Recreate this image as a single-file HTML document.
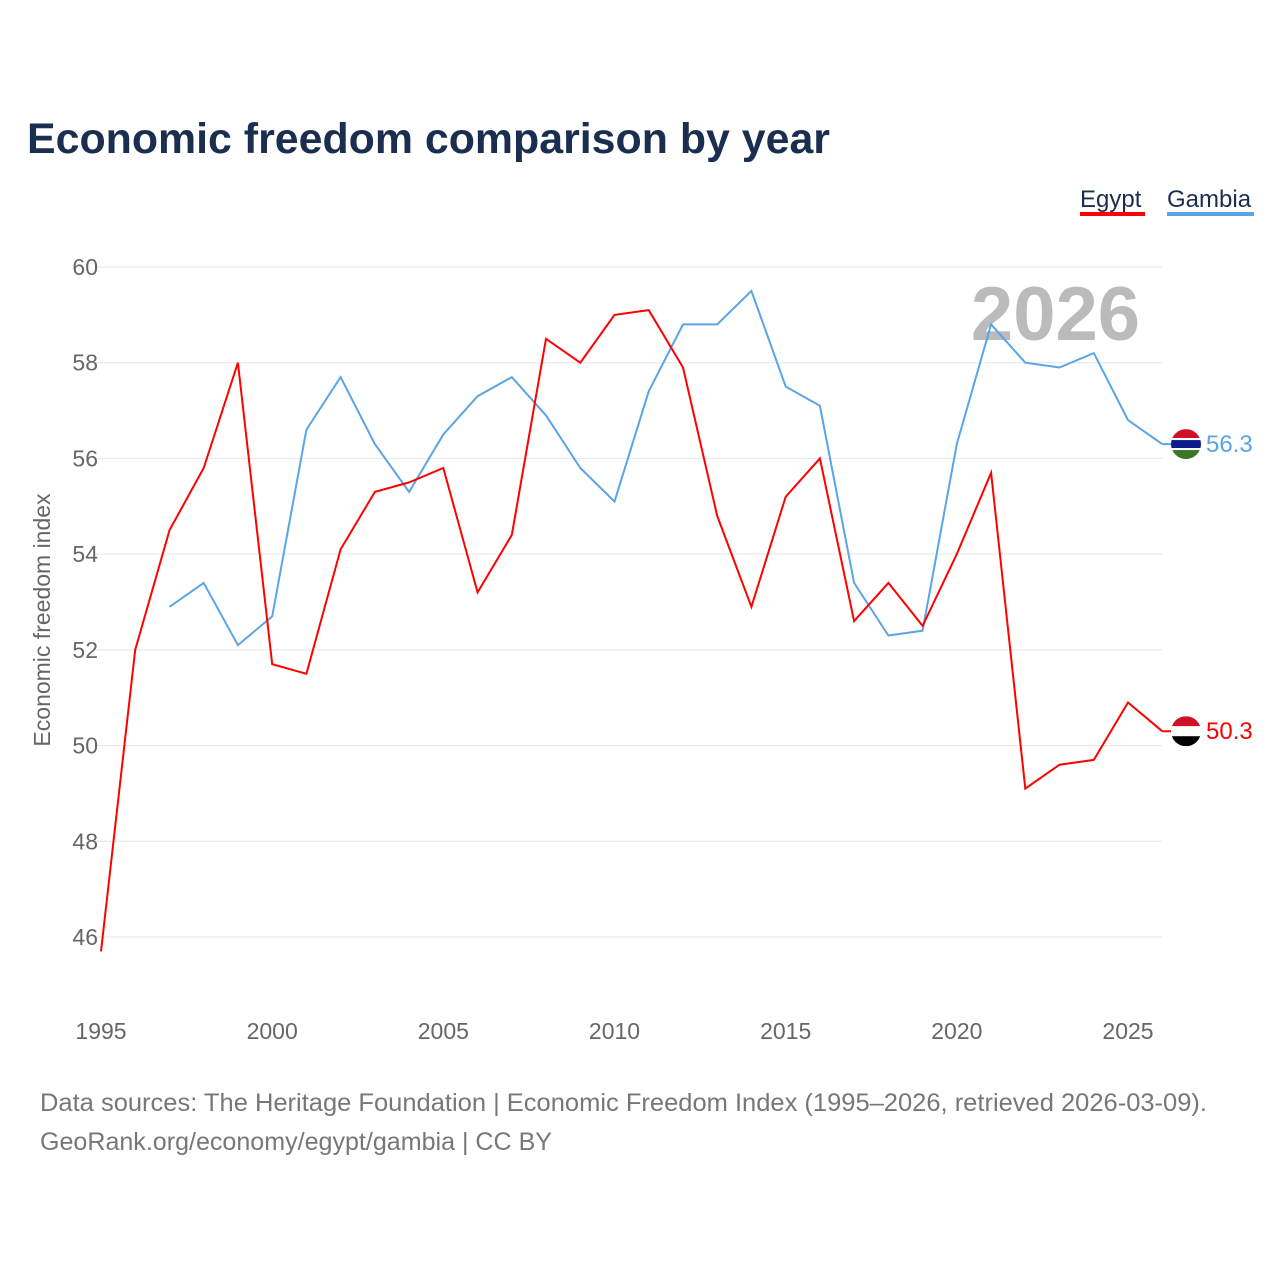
<!DOCTYPE html>
<html><head><meta charset="utf-8">
<style>
body{margin:0;background:#fff;width:1280px;height:1280px;overflow:hidden;font-family:"Liberation Sans",sans-serif}
svg text{font-family:"Liberation Sans",sans-serif}
</style></head>
<body>
<svg id="chart" width="1280" height="1280">
<text x="27" y="153" font-size="43" font-weight="bold" fill="#1a2e4f" textLength="803" lengthAdjust="spacingAndGlyphs">Economic freedom comparison by year</text>
<g>
<text x="1080" y="207" font-size="24" fill="#1a2e4f">Egypt</text>
<rect x="1080" y="212" width="65" height="4" fill="#ff0000"/>
<text x="1167" y="207" font-size="24" fill="#1a2e4f">Gambia</text>
<rect x="1167" y="212" width="87" height="4" fill="#5ba4e6"/>
</g>
<text x="1140" y="340" font-size="76" font-weight="bold" fill="#bbbbbb" text-anchor="end">2026</text>
<g id="grid"></g>
<g id="axes"></g>
<text transform="translate(50,620) rotate(-90)" font-size="23" fill="#666" text-anchor="middle">Economic freedom index</text>
<g id="series"></g>
<g id="ends"></g>
<text x="40" y="1111" font-size="25" fill="#777" textLength="1167" lengthAdjust="spacingAndGlyphs">Data sources: The Heritage Foundation | Economic Freedom Index (1995–2026, retrieved 2026-03-09).</text>
<text x="40" y="1150" font-size="25" fill="#777" textLength="512" lengthAdjust="spacingAndGlyphs">GeoRank.org/economy/egypt/gambia | CC BY</text>
</svg>
<script>
const years=[1995,1996,1997,1998,1999,2000,2001,2002,2003,2004,2005,2006,2007,2008,2009,2010,2011,2012,2013,2014,2015,2016,2017,2018,2019,2020,2021,2022,2023,2024,2025,2026];
const egypt=[45.7,52.0,54.5,55.8,58.0,51.7,51.5,54.1,55.3,55.5,55.8,53.2,54.4,58.5,58.0,59.0,59.1,57.9,54.8,52.9,55.2,56.0,52.6,53.4,52.5,54.0,55.7,49.1,49.6,49.7,50.9,50.3];
const gambia=[null,null,52.9,53.4,52.1,52.7,56.6,57.7,56.3,55.3,56.5,57.3,57.7,56.9,55.8,55.1,57.4,58.8,58.8,59.5,57.5,57.1,53.4,52.3,52.4,56.3,58.8,58.0,57.9,58.2,56.8,56.3];
const yTicks=[46,48,50,52,54,56,58,60];
const xTicks=[1995,2000,2005,2010,2015,2020,2025];
const NS="http://www.w3.org/2000/svg";
const X=y=>101+(y-1995)*(1027/30);
const Y=v=>267+(60-v)*(670/14);
function mk(tag,attrs,parent){const e=document.createElementNS(NS,tag);for(const k in attrs)e.setAttribute(k,attrs[k]);parent.appendChild(e);return e;}
const grid=document.getElementById('grid'),axes=document.getElementById('axes');
yTicks.forEach(v=>{
 const l=mk('line',{x1:95,x2:1162,y1:Y(v),y2:Y(v),stroke:'#e6e6e6','stroke-width':1},grid);
 
 
 const t=mk('text',{x:98,y:Y(v)+8,'font-size':23,fill:'#666','text-anchor':'end'},axes);
 t.textContent=v;
 
 
});
xTicks.forEach(v=>{
 const t=mk('text',{x:X(v),y:1039,'font-size':23,fill:'#666','text-anchor':'middle'},axes);
 t.textContent=v;
 
 
});
const ser=document.getElementById('series');
function line(vals,color,name){
 let d='';vals.forEach((v,i)=>{if(v==null)return;d+=(d?'L':'M')+X(years[i]).toFixed(1)+','+Y(v).toFixed(1);});
 const p=mk('path',{d:d,fill:'none',stroke:color,'stroke-width':2},ser);
 
 
}
line(gambia,'#5ba4e6','line-gambia');
line(egypt,'#ff0000','line-egypt');
const ends=document.getElementById('ends');
function endLabel(vals,color,name,stripes){
 const v=vals[vals.length-1],x=X(years[years.length-1]),y=Y(v);
 mk('line',{x1:x,x2:1186,y1:y,y2:y,stroke:color,'stroke-width':2},ends);
 const g=mk('g',{},ends);
 
 
 const cid='clip-'+name;
 const cp=mk('clipPath',{id:cid},g);mk('circle',{cx:1186,cy:y,r:15},cp);
 let yy=y-15;stripes.forEach(s=>{mk('rect',{x:1171,y:yy,width:30,height:s[1],fill:s[0],'clip-path':'url(#'+cid+')'},g);yy+=s[1];});
 const t=mk('text',{x:1206,y:y+8,'font-size':24,fill:color},ends);
 t.textContent=v.toFixed(1);
 
 
}
endLabel(gambia,'#5ba4e6','gambia',[['#ce1126',9],['#fff',2],['#0c1c8c',8],['#fff',2],['#3a7728',9]]);
endLabel(egypt,'#ff0000','egypt',[['#ce1126',10],['#fff',10],['#000',10]]);
</script>
</body></html>
